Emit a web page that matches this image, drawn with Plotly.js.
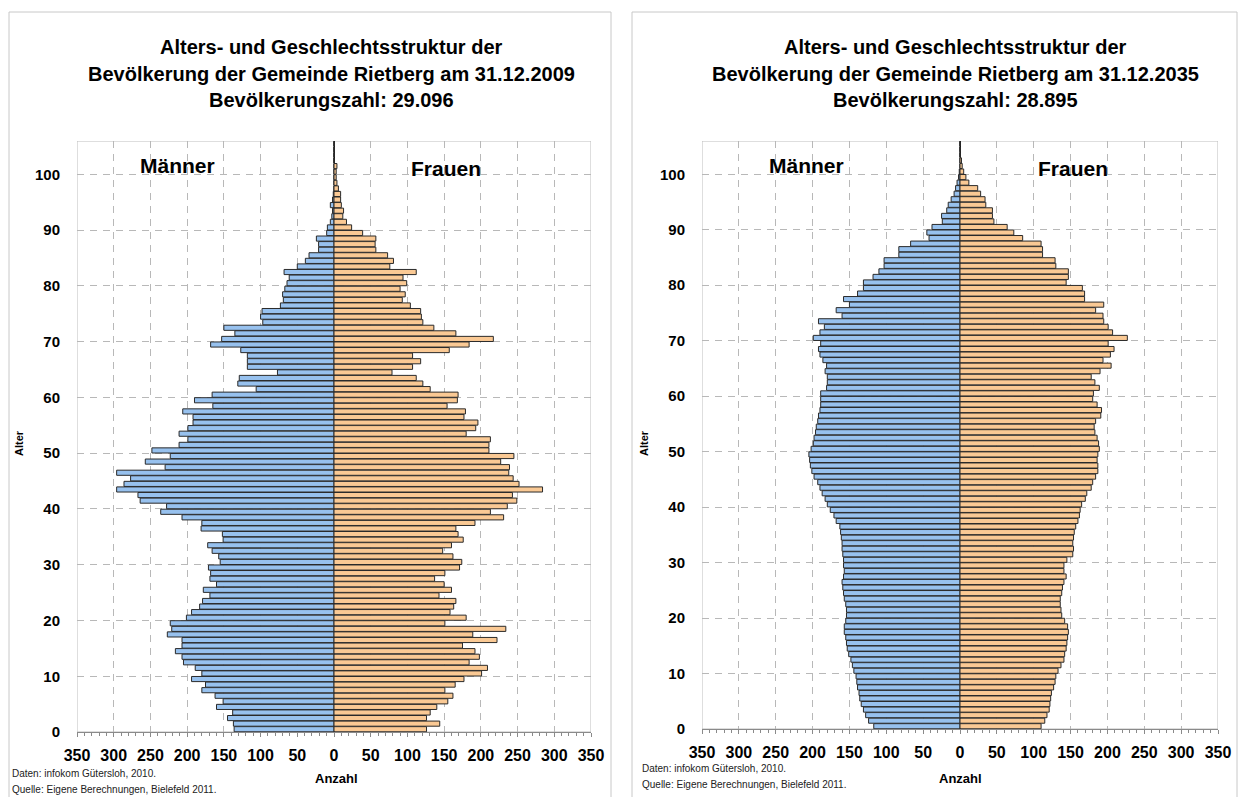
<!DOCTYPE html>
<html><head><meta charset="utf-8">
<script src="https://cdn.plot.ly/plotly-3.0.1.min.js"></script>
<style>html,body{margin:0;padding:0;background:#fff}#chart{width:1239px;height:797px}</style>
</head><body><div id="chart"></div>
<script>
const ages = [0,1,2,3,4,5,6,7,8,9,10,11,12,13,14,15,16,17,18,19,20,21,22,23,24,25,26,27,28,29,30,31,32,33,34,35,36,37,38,39,40,41,42,43,44,45,46,47,48,49,50,51,52,53,54,55,56,57,58,59,60,61,62,63,64,65,66,67,68,69,70,71,72,73,74,75,76,77,78,79,80,81,82,83,84,85,86,87,88,89,90,91,92,93,94,95,96,97,98,99,100,101,102,103,104,105];

const men2009 = [136,137,145,138,160,151,162,180,175,194,180,189,205,207,216,207,207,227,221,223,201,194,183,179,169,178,160,169,168,171,155,157,166,172,151,152,181,180,207,236,228,264,267,296,286,277,296,230,257,223,248,211,199,211,199,192,192,206,165,190,166,106,131,129,77,118,118,118,127,168,153,135,150,97,100,98,73,69,70,67,64,61,68,50,39,34,21,21,24,10,9,5,3,2,5,2,1,0,0,0,0,0,0,0,0,0];
const women2009 = [126,144,126,131,140,155,162,151,165,177,201,209,184,198,192,175,222,189,234,151,180,158,163,166,143,160,150,137,151,171,174,162,148,160,176,169,166,192,231,213,236,249,243,284,252,244,238,239,227,245,211,211,213,180,193,196,177,179,154,168,169,131,121,112,79,107,118,107,157,184,217,166,136,121,119,118,104,93,97,90,99,94,112,76,81,73,57,56,57,39,24,17,12,13,10,9,9,6,4,3,3,4,0,0,0,0];

const men2035 = [117,124,128,131,134,136,137,139,140,141,144,146,148,151,153,154,155,157,157,155,154,154,155,157,158,159,160,158,157,158,158,159,160,160,161,162,163,168,171,176,180,183,187,190,193,198,201,203,204,205,202,199,198,196,195,193,192,190,189,189,189,181,180,180,183,181,186,190,192,189,199,190,184,192,160,168,150,158,139,131,131,118,110,103,103,83,83,67,42,45,38,24,25,18,16,12,8,6,4,2,1,0,0,0,0,0];
const women2035 = [110,115,118,121,122,123,124,127,129,130,133,137,141,142,144,145,146,147,146,142,138,137,136,136,138,139,141,144,141,141,145,153,154,153,154,155,157,160,162,163,165,170,172,178,180,184,187,187,186,187,189,188,186,183,182,184,191,192,186,180,181,189,183,178,190,205,194,204,209,201,227,207,201,195,194,184,195,169,169,166,144,147,147,130,129,112,112,110,85,73,64,46,44,44,35,34,28,24,12,8,5,3,2,0,0,0];

const xTickVals = [-350,-300,-250,-200,-150,-100,-50,0,50,100,150,200,250,300,350];
const xTickText = ['350','300','250','200','150','100','50','0','50','100','150','200','250','300','350'];
const ageTickLabels = ['0','10','20','30','40','50','60','70','80','90','100'];

const titleLines2009 = ['Alters- und Geschlechtsstruktur der','Bevölkerung der Gemeinde Rietberg am 31.12.2009','Bevölkerungszahl: 29.096'];
const titleLines2035 = ['Alters- und Geschlechtsstruktur der','Bevölkerung der Gemeinde Rietberg am 31.12.2035','Bevölkerungszahl: 28.895'];
const noteLines = ['Daten: infokom Gütersloh, 2010.','Quelle: Eigene Berechnungen, Bielefeld 2011.'];

const W = 1239, H = 797;
const px = x => x / W;
const py = y => 1 - y / H;
const FONT = 'Liberation Sans, Arial, Helvetica, sans-serif';
const BLUE = '#97C1EE', ORANGE = '#FAC994', EDGE = '#2a2a2a';
const GRID = '#b8b8b8';
const AXC = '#8a8a8a';

function barTrace(vals, neg, color, xa, ya) {
  return {
    type: 'bar', orientation: 'h', y: ages,
    x: vals.map(v => neg ? -v : v),
    xaxis: xa, yaxis: ya,
    marker: {color: color, line: {color: EDGE, width: 1}},
    showlegend: false, hoverinfo: 'skip'
  };
}

const data = [
  barTrace(men2009, true, BLUE, 'x', 'y'),
  barTrace(women2009, false, ORANGE, 'x', 'y'),
  barTrace(men2035, true, BLUE, 'x2', 'y2'),
  barTrace(women2035, false, ORANGE, 'x2', 'y2')
];

function xAxis(domain, anchor) {
  return {
    domain: domain, anchor: anchor, range: [-350, 350], fixedrange: true,
    tickmode: 'array', tickvals: xTickVals, ticktext: xTickText,
    tickfont: {family: FONT, size: 16, color: '#000', weight: 700},
    showgrid: true, gridcolor: GRID, griddash: '7px,6px', gridwidth: 1,
    zeroline: true, zerolinecolor: '#000', zerolinewidth: 1,
    showline: true, linecolor: AXC, linewidth: 1,
    ticks: 'outside', ticklen: 4, tickcolor: AXC,
    minor: {tickmode: 'linear', tick0: 0, dtick: 10, ticks: 'outside', ticklen: 3, tickcolor: AXC, showgrid: false},
    ticklabelstandoff: 5
  };
}
// overlay axis only to draw the upper half of the crossing tick marks
function xTickOverlay(over, anchor) {
  return {
    overlaying: over, anchor: anchor, range: [-350, 350], fixedrange: true,
    tickmode: 'array', tickvals: xTickVals, showticklabels: false,
    showgrid: false, zeroline: false, showline: false,
    ticks: 'inside', ticklen: 4, tickcolor: AXC,
    minor: {tickmode: 'linear', tick0: 0, dtick: 10, ticks: 'inside', ticklen: 3, tickcolor: AXC, showgrid: false}
  };
}
function yAxis(domain, anchor) {
  return {
    domain: domain, anchor: anchor, range: [-0.5, 105.5], fixedrange: true,
    tickmode: 'array', tickvals: ageTickLabels.map(t => Number(t) - 0.5), ticktext: ageTickLabels,
    tickfont: {family: FONT, size: 15, color: '#000', weight: 700},
    showgrid: true, gridcolor: GRID, griddash: '7px,6px', gridwidth: 1,
    zeroline: false, showline: false, ticks: '', ticklabelstandoff: 16
  };
}

const annotations = [];
function ann(text, x, y, size, opts) {
  annotations.push(Object.assign({
    text: text, xref: 'paper', yref: 'paper', x: px(x), y: py(y),
    xanchor: 'center', yanchor: 'middle', showarrow: false,
    font: {family: FONT, size: size, color: '#000', weight: 700}
  }, opts || {}));
}
const titleY = [47, 74, 100];
titleLines2009.forEach((t, i) => ann(t, 331.5, titleY[i], 20));
titleLines2035.forEach((t, i) => ann(t, 955, titleY[i], 20));
ann('Männer', 177, 165, 21); ann('Frauen', 446, 168, 21);
ann('Männer', 806, 165, 21); ann('Frauen', 1073, 168, 21);
ann('Alter', 19, 443, 11, {textangle: -90});
ann('Alter', 644, 443, 11, {textangle: -90});
ann('Anzahl', 336, 778, 13);
ann('Anzahl', 960, 778, 13);
const noteFont = {family: FONT, size: 10, color: '#222', weight: 400};
ann(noteLines[0], 10, 773, 10, {xanchor: 'left', font: noteFont});
ann(noteLines[1], 10, 789, 10, {xanchor: 'left', font: noteFont});
ann(noteLines[0], 640, 768, 10, {xanchor: 'left', font: noteFont});
ann(noteLines[1], 640, 784, 10, {xanchor: 'left', font: noteFont});

const shapes = [
  {type: 'rect', xref: 'paper', yref: 'paper', x0: px(9), x1: px(611), y0: py(830), y1: py(12), line: {color: '#c8c8c8', width: 1}},
  {type: 'rect', xref: 'paper', yref: 'paper', x0: px(632), x1: px(1237), y0: py(830), y1: py(12), line: {color: '#c8c8c8', width: 1}},
  {type: 'rect', xref: 'x', yref: 'y', x0: -350, x1: 350, y0: -0.5, y1: 105.5, line: {color: '#bdbdbd', width: 1}, layer: 'below'},
  {type: 'rect', xref: 'x2', yref: 'y2', x0: -350, x1: 350, y0: -0.5, y1: 105.5, line: {color: '#bdbdbd', width: 1}, layer: 'below'}
];

const layout = {
  width: W, height: H, margin: {l: 0, r: 0, t: 0, b: 0},
  paper_bgcolor: '#fff', plot_bgcolor: '#fff',
  barmode: 'overlay', bargap: 0.08,
  font: {family: FONT, color: '#000'},
  xaxis: xAxis([px(77), px(591)], 'y'),
  yaxis: yAxis([py(732), py(141)], 'x'),
  xaxis2: xAxis([px(702), px(1218)], 'y2'),
  yaxis2: yAxis([py(729), py(141)], 'x2'),
  xaxis3: xTickOverlay('x', 'y'),
  xaxis4: xTickOverlay('x2', 'y2'),
  annotations: annotations, shapes: shapes
};

Plotly.newPlot('chart', data, layout, {displayModeBar: false, staticPlot: true});
</script>
</body></html>
